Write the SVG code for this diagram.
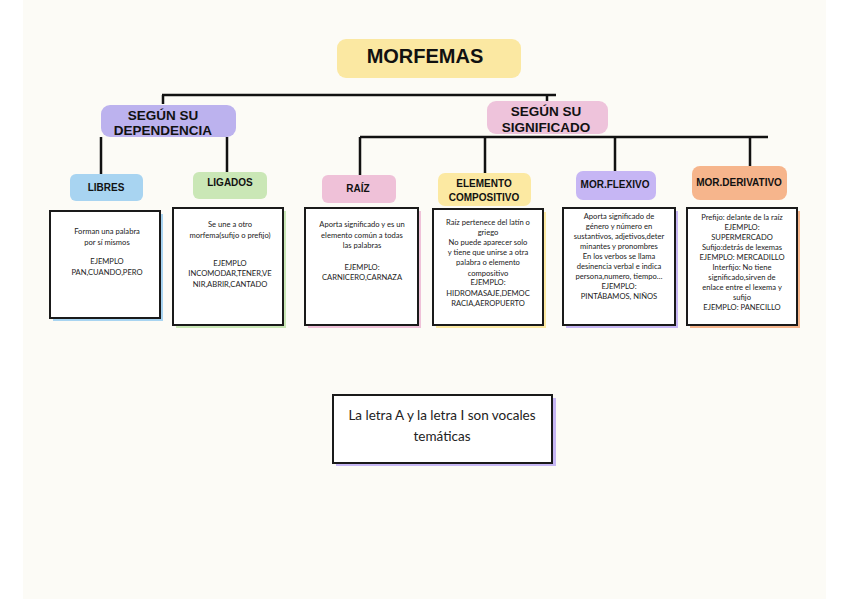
<svg xmlns="http://www.w3.org/2000/svg" width="848" height="599" viewBox="0 0 848 599">
<style>
.h{font-family:"Liberation Sans",Arial,sans-serif;font-weight:bold;fill:#111;text-anchor:middle}
.t{font-family:"Lato","Liberation Sans",Arial,sans-serif;font-size:7.6px;fill:#222;text-anchor:middle}
.big{font-size:13.5px}
.card{fill:#fff;stroke:#1a1a1a;stroke-width:2}
.ln{stroke:#111;stroke-width:2.5;fill:none}
</style>
<rect width="848" height="599" fill="#ffffff"/>
<rect x="23" y="0" width="803" height="599" fill="#FCFBF6"/>

<g id="connectors">
<path class="ln" d="M162 95 H556 M163 95 V104 M547 95 V104"/>
<path class="ln" d="M360 137 H768 M360 137 V178 M485 137 V178 M615 137 V175 M750 137 V170"/>
<path class="ln" d="M101 137 V178 M227 137 V175"/>
</g>

<g id="morfemas">
<rect x="337" y="39" width="184" height="39" rx="9" fill="#FBE8A2"/>
<text class="h" x="425" y="63" font-size="20">MORFEMAS</text>
</g>

<g id="dependencia">
<rect x="101" y="105" width="135" height="32" rx="9" fill="#BCB2EE"/>
<text class="h" x="163" y="120" font-size="13.5">SEGÚN SU</text>
<text class="h" x="163" y="135" font-size="13.5">DEPENDENCIA</text>
</g>

<g id="significado">
<rect x="487" y="101" width="121" height="33" rx="9" fill="#EEC3DB"/>
<text class="h" x="546" y="116" font-size="13.5">SEGÚN SU</text>
<text class="h" x="546" y="132" font-size="13.5">SIGNIFICADO</text>
</g>

<g id="libres">
<rect x="70" y="174" width="73" height="27" rx="6" fill="#A8D4F1"/>
<text class="h" x="106" y="191" font-size="10">LIBRES</text>
<rect x="53" y="214" width="110" height="107" fill="#A8D4F1"/>
<rect class="card" x="50" y="211" width="110" height="107"/>
<text class="t" x="107" y="234">Forman una palabra</text>
<text class="t" x="107" y="245">por sí mismos</text>
<text class="t" x="107" y="264">EJEMPLO</text>
<text class="t" x="107" y="275">PAN,CUANDO,PERO</text>
</g>

<g id="ligados">
<rect x="193" y="172" width="74" height="27" rx="6" fill="#CAE7B6"/>
<text class="h" x="230" y="186" font-size="10">LIGADOS</text>
<rect x="176" y="211" width="110" height="117" fill="#CAE7B6"/>
<rect class="card" x="173" y="208" width="110" height="117"/>
<text class="t" x="230" y="227">Se une a otro</text>
<text class="t" x="230" y="238">morfema(sufijo o prefijo)</text>
<text class="t" x="230" y="266">EJEMPLO</text>
<text class="t" x="230" y="276">INCOMODAR,TENER,VE</text>
<text class="t" x="230" y="287">NIR,ABRIR,CANTADO</text>
</g>

<g id="raiz">
<rect x="322" y="175" width="74" height="28" rx="6" fill="#EFC1D8"/>
<text class="h" x="358" y="192" font-size="10">RAÍZ</text>
<rect x="308" y="211" width="113" height="117" fill="#EFC1D8"/>
<rect class="card" x="305" y="208" width="113" height="117"/>
<text class="t" x="362" y="227">Aporta significado y es un</text>
<text class="t" x="362" y="238">elemento común a todas</text>
<text class="t" x="362" y="248">las palabras</text>
<text class="t" x="362" y="270">EJEMPLO:</text>
<text class="t" x="362" y="280">CARNICERO,CARNAZA</text>
</g>

<g id="elemento">
<rect x="438" y="173" width="93" height="33" rx="7" fill="#FCE9A2"/>
<text class="h" x="484" y="187" font-size="10">ELEMENTO</text>
<text class="h" x="484" y="201" font-size="10">COMPOSITIVO</text>
<rect x="436" y="212" width="110" height="116" fill="#FCE9A2"/>
<rect class="card" x="433" y="209" width="110" height="116"/>
<text class="t" x="488" y="225">Raíz pertenece del latín o</text>
<text class="t" x="488" y="235">griego</text>
<text class="t" x="488" y="245">No puede aparecer solo</text>
<text class="t" x="488" y="255">y tiene que unirse a otra</text>
<text class="t" x="488" y="265">palabra o elemento</text>
<text class="t" x="488" y="276">compositivo</text>
<text class="t" x="488" y="285">EJEMPLO:</text>
<text class="t" x="488" y="296">HIDROMASAJE,DEMOC</text>
<text class="t" x="488" y="306">RACIA,AEROPUERTO</text>
</g>

<g id="flexivo">
<rect x="576" y="171" width="80" height="29" rx="7" fill="#C6B6F4"/>
<text class="h" x="615" y="188" font-size="10">MOR.FLEXIVO</text>
<rect x="566" y="211" width="112" height="117" fill="#C6B6F4"/>
<rect class="card" x="563" y="208" width="112" height="117"/>
<text class="t" x="619" y="219">Aporta significado de</text>
<text class="t" x="619" y="229">género y número en</text>
<text class="t" x="619" y="239">sustantivos, adjetivos,deter</text>
<text class="t" x="619" y="249">minantes y pronombres</text>
<text class="t" x="619" y="259">En los verbos se llama</text>
<text class="t" x="619" y="269">desinencia verbal e indica</text>
<text class="t" x="619" y="279">persona,numero, tiempo…</text>
<text class="t" x="619" y="289">EJEMPLO:</text>
<text class="t" x="619" y="299">PINTÁBAMOS, NIÑOS</text>
</g>

<g id="derivativo">
<rect x="692" y="166" width="95" height="34" rx="8" fill="#F6B58C"/>
<text class="h" x="739" y="186" font-size="10">MOR.DERIVATIVO</text>
<rect x="690" y="211" width="110" height="117" fill="#F6B58C"/>
<rect class="card" x="687" y="208" width="110" height="117"/>
<text class="t" x="742" y="220">Prefijo: delante de la raíz</text>
<text class="t" x="742" y="230">EJEMPLO:</text>
<text class="t" x="742" y="240">SUPERMERCADO</text>
<text class="t" x="742" y="250">Sufijo:detrás de lexemas</text>
<text class="t" x="742" y="260">EJEMPLO: MERCADILLO</text>
<text class="t" x="742" y="270">Interfijo: No tiene</text>
<text class="t" x="742" y="280">significado,sirven de</text>
<text class="t" x="742" y="290">enlace entre el lexema y</text>
<text class="t" x="742" y="300">sufijo</text>
<text class="t" x="742" y="310">EJEMPLO: PANECILLO</text>
</g>

<g id="vocales">
<rect x="336" y="398" width="220" height="68" fill="#C6B6F4"/>
<rect class="card" x="333" y="395" width="219" height="68"/>
<text class="t big" x="442" y="420">La letra A y la letra I son vocales</text>
<text class="t big" x="442" y="441">temáticas</text>
</g>
</svg>
